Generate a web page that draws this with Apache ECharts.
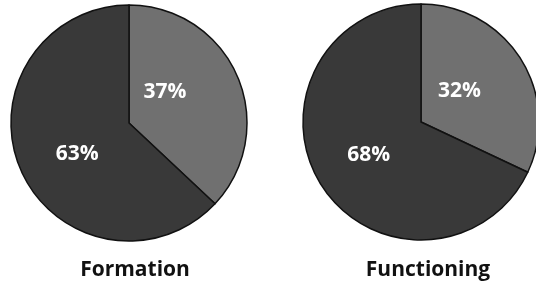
<!DOCTYPE html>
<html lang="en">
<head>
    <meta charset="UTF-8">
    <title>Formation / Functioning</title>
    <style>
        html, body { margin: 0; padding: 0; background: #fff; }
        #chart { width: 536px; height: 285px; }
    </style>
</head>
<body>
    <div id="chart"></div>
    <script src="https://cdn.jsdelivr.net/npm/echarts@6/dist/echarts.min.js"></script>
    <script>
        var panels = ['Formation', 'Functioning'];
        var sliceNames = ['Minor', 'Major'];
        var formationValues = [37, 63];
        var functioningValues = [32, 68];

        var sliceColors = ['#707070', '#393939'];
        // nudge labels to where they sit in the original
        var labelShift = [
            [[-21, -6], [5, 6]],
            [[-14, 2], [0, 0]]
        ];

        function makeData(values) {
            var out = [];
            for (var i = 0; i < values.length; i++) {
                out.push({
                    name: sliceNames[i],
                    value: values[i],
                    itemStyle: { color: sliceColors[i] }
                });
            }
            return out;
        }

        function makePie(values, center, idx) {
            return {
                type: 'pie',
                center: center,
                radius: 118,
                startAngle: 90,
                clockwise: true,
                silent: true,
                animation: false,
                itemStyle: { borderColor: '#111', borderWidth: 1.5 },
                label: {
                    show: true,
                    position: 'inside',
                    formatter: '{c}%',
                    color: '#fff',
                    fontFamily: 'Open Sans',
                    fontWeight: 'bold',
                    fontSize: 21
                },
                labelLine: { show: false },
                labelLayout: function (p) {
                    var s = labelShift[idx][p.dataIndex];
                    return { dx: s[0], dy: s[1] };
                },
                data: makeData(values)
            };
        }

        var titleStyle = { fontFamily: 'Open Sans', fontWeight: 'bold', fontSize: 21, color: '#111' };

        var myChart = echarts.init(document.getElementById('chart'));
        var option = {
            backgroundColor: '#fff',
            title: [
                { text: panels[0], left: 130, top: 255, textAlign: 'center', textStyle: titleStyle },
                { text: panels[1], left: 423, top: 255, textAlign: 'center', textStyle: titleStyle }
            ],
            series: [
                makePie(formationValues, [129, 123], 0),
                makePie(functioningValues, [421, 122], 1)
            ]
        };
        myChart.setOption(option);
    </script>
</body>
</html>
